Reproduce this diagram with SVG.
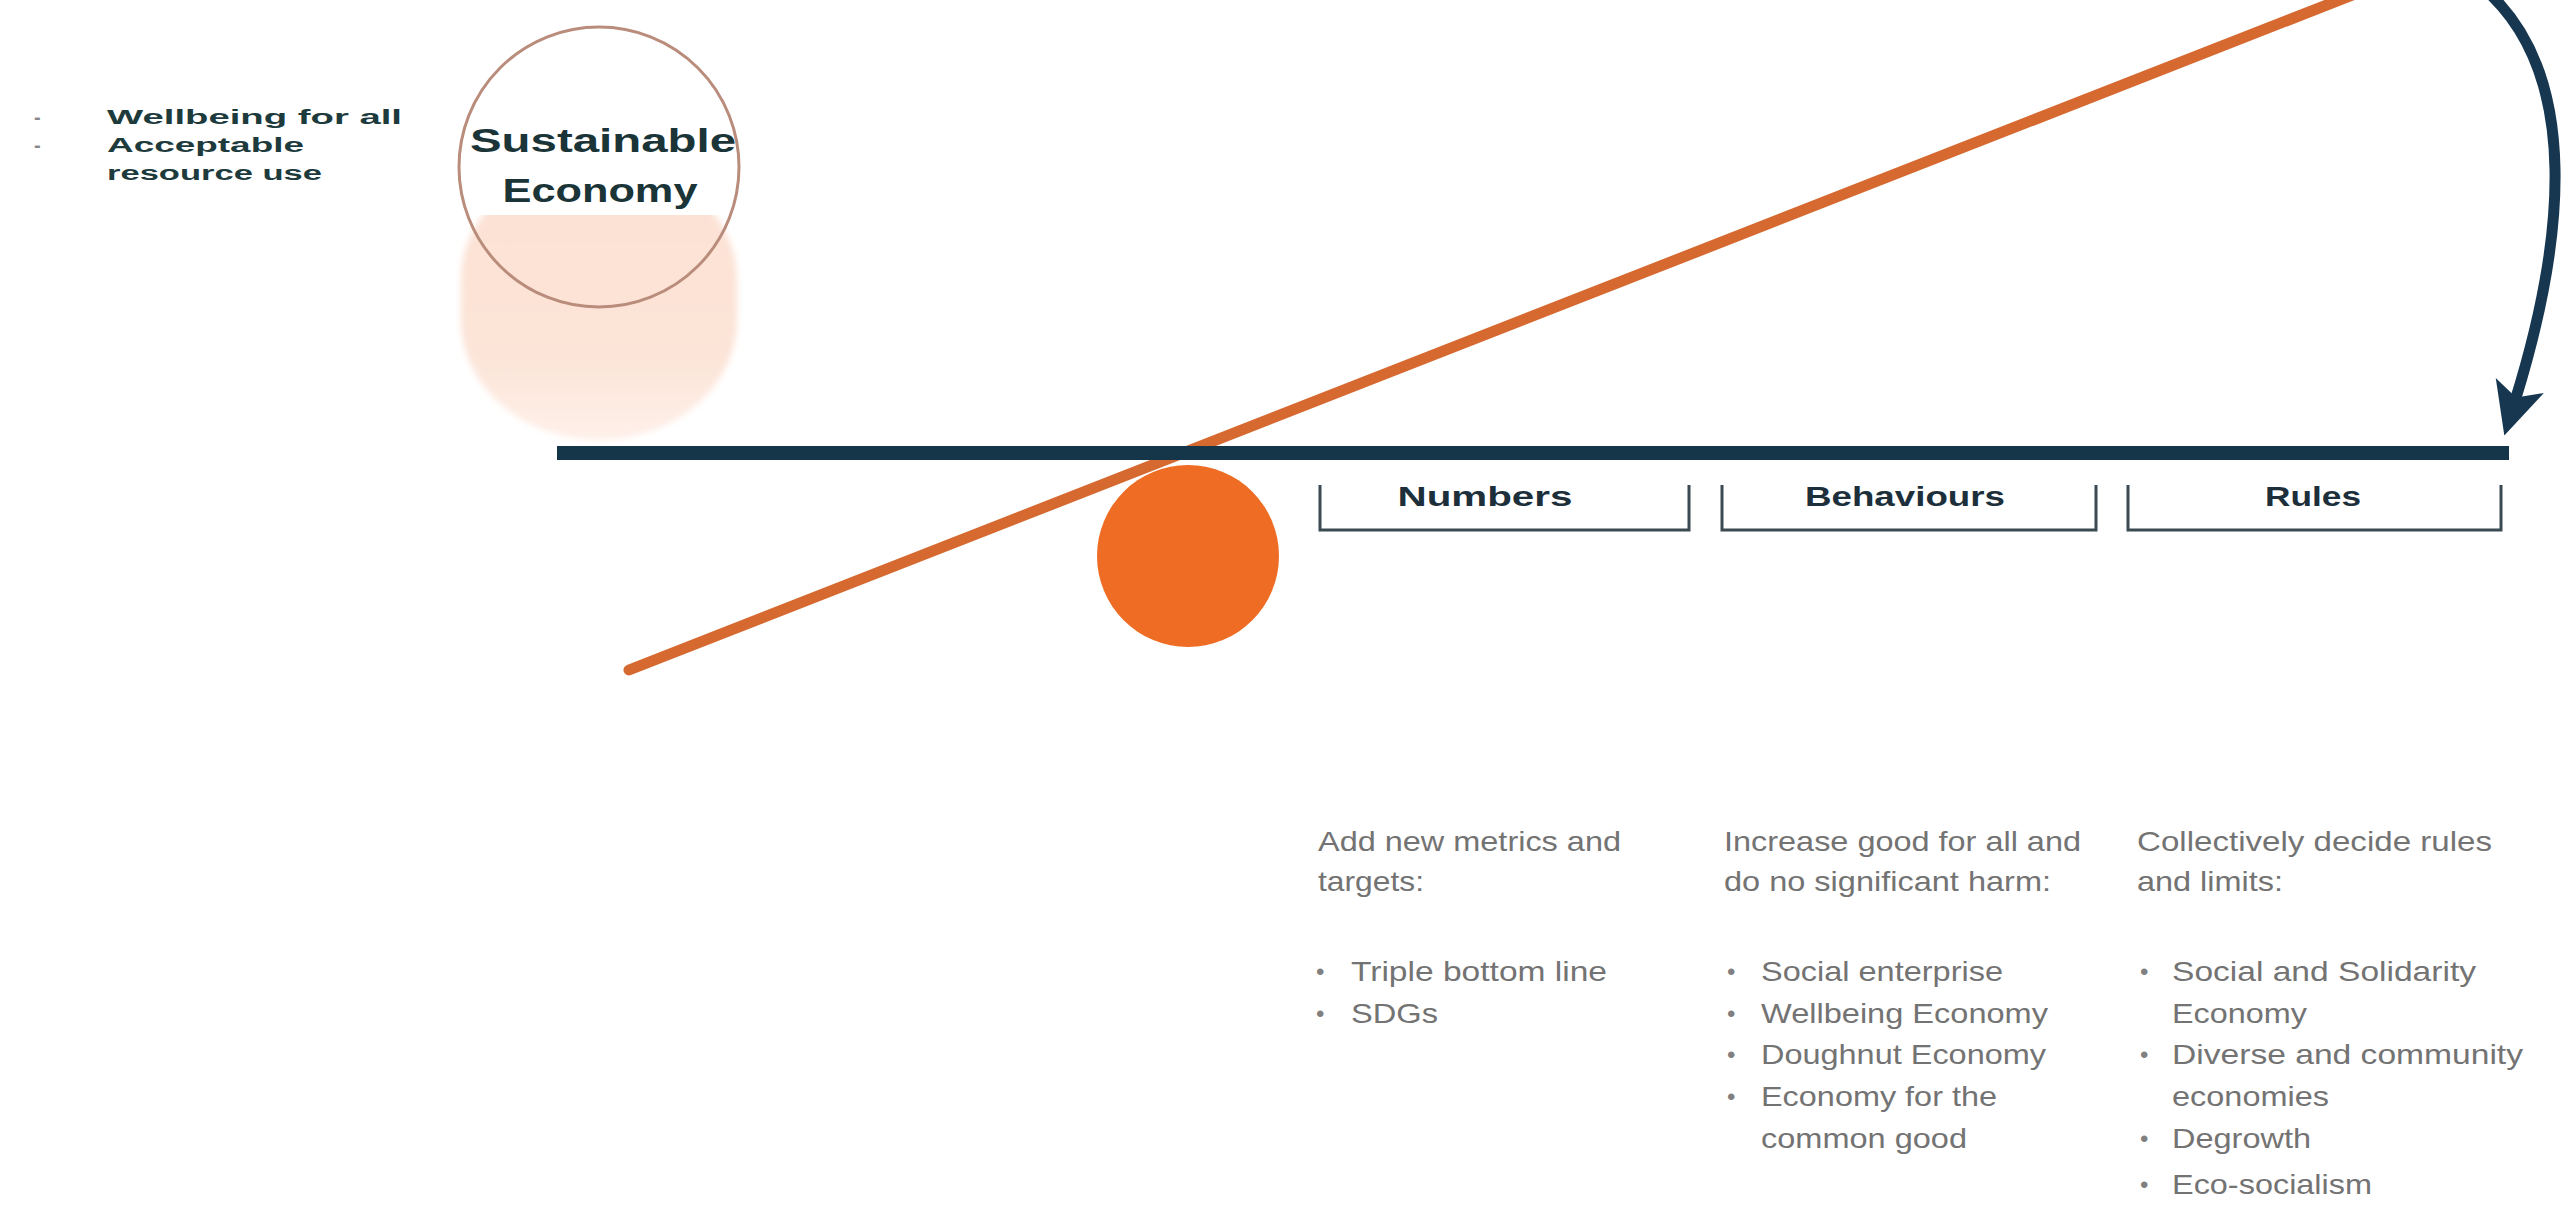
<svg xmlns="http://www.w3.org/2000/svg" width="2574" height="1222" viewBox="0 0 2574 1222">
<defs>
<style>
.t{font-family:"Liberation Sans",Arial,sans-serif}
.b{font-weight:700}
.goal{font-size:20px;fill:#1d3a3c}
.title{font-size:34px;fill:#1a3438}
.lab{font-size:28px;fill:#1c2f3a}
.body{font-size:28px;fill:#737373}
.dot{font-size:24px;fill:#808080}
.brk{fill:none;stroke:#3b4a52;stroke-width:3}
</style>
<linearGradient id="peach" x1="0" y1="0" x2="0" y2="1">
<stop offset="0" stop-color="#fce1d3"/>
<stop offset="0.7" stop-color="#fce4d8"/>
<stop offset="1" stop-color="#fef0e9"/>
</linearGradient>
<filter id="soft" x="-10%" y="-10%" width="120%" height="120%"><feGaussianBlur stdDeviation="3"/></filter>
<marker id="ah" viewBox="0 0 60 60" markerWidth="54" markerHeight="54" refX="18" refY="30" orient="auto" markerUnits="userSpaceOnUse">
<path d="M0,2 L58,30 L0,58 L14,30 Z" fill="#173750"/>
</marker>
</defs>
<rect width="2574" height="1222" fill="#ffffff"/>

<g id="goals">
<text class="t b" x="34" y="124" font-size="20" fill="#888">-</text>
<text class="t b" x="34" y="152" font-size="20" fill="#888">-</text>
<text class="t b goal" x="107" y="124" textLength="295" lengthAdjust="spacingAndGlyphs">Wellbeing for all</text>
<text class="t b goal" x="107" y="152" textLength="197" lengthAdjust="spacingAndGlyphs">Acceptable</text>
<text class="t b goal" x="107" y="180" textLength="215" lengthAdjust="spacingAndGlyphs">resource use</text>
</g>

<g id="sustainable-economy">
<rect x="461" y="160" width="276" height="280" rx="138" ry="120" fill="url(#peach)" filter="url(#soft)"/>
<rect x="450" y="15" width="300" height="200" fill="#ffffff"/>
<circle cx="599" cy="167" r="140" fill="none" stroke="#b98c7c" stroke-width="3"/>
<text class="t b title" x="603" y="152" text-anchor="middle" textLength="266" lengthAdjust="spacingAndGlyphs">Sustainable</text>
<text class="t b title" x="600" y="202" text-anchor="middle" textLength="195" lengthAdjust="spacingAndGlyphs">Economy</text>
</g>

<g id="fulcrum">
<circle cx="1188" cy="556" r="91" fill="#ee6c24"/>
</g>

<g id="lever">
<line x1="629" y1="670" x2="2360" y2="-8" stroke="#d6692f" stroke-width="11" stroke-linecap="round"/>
</g>

<g id="beam">
<rect x="557" y="446" width="1952" height="14" fill="#153548"/>
</g>

<g id="numbers">
<path class="brk" d="M1320,485 V530 H1689 V485"/>
<text class="t b lab" x="1485" y="506" text-anchor="middle" textLength="175" lengthAdjust="spacingAndGlyphs">Numbers</text>
</g>
<g id="behaviours">
<path class="brk" d="M1722,485 V530 H2096 V485"/>
<text class="t b lab" x="1905" y="506" text-anchor="middle" textLength="200" lengthAdjust="spacingAndGlyphs">Behaviours</text>
</g>
<g id="rules">
<path class="brk" d="M2128,485 V530 H2501 V485"/>
<text class="t b lab" x="2313" y="506" text-anchor="middle" textLength="96" lengthAdjust="spacingAndGlyphs">Rules</text>
</g>

<g id="numbers-text">
<text class="t body" x="1318" y="851" textLength="303" lengthAdjust="spacingAndGlyphs">Add new metrics and</text>
<text class="t body" x="1318" y="891" textLength="106" lengthAdjust="spacingAndGlyphs">targets:</text>
<text class="t dot" x="1316" y="980">•</text>
<text class="t body" x="1351" y="981" textLength="256" lengthAdjust="spacingAndGlyphs">Triple bottom line</text>
<text class="t dot" x="1316" y="1022">•</text>
<text class="t body" x="1351" y="1023" textLength="87" lengthAdjust="spacingAndGlyphs">SDGs</text>
</g>

<g id="behaviours-text">
<text class="t body" x="1724" y="851" textLength="357" lengthAdjust="spacingAndGlyphs">Increase good for all and</text>
<text class="t body" x="1724" y="891" textLength="327" lengthAdjust="spacingAndGlyphs">do no significant harm:</text>
<text class="t dot" x="1727" y="980">•</text>
<text class="t body" x="1761" y="981" textLength="242" lengthAdjust="spacingAndGlyphs">Social enterprise</text>
<text class="t dot" x="1727" y="1022">•</text>
<text class="t body" x="1761" y="1023" textLength="287" lengthAdjust="spacingAndGlyphs">Wellbeing Economy</text>
<text class="t dot" x="1727" y="1063">•</text>
<text class="t body" x="1761" y="1064" textLength="285" lengthAdjust="spacingAndGlyphs">Doughnut Economy</text>
<text class="t dot" x="1727" y="1105">•</text>
<text class="t body" x="1761" y="1106" textLength="236" lengthAdjust="spacingAndGlyphs">Economy for the</text>
<text class="t body" x="1761" y="1148" textLength="206" lengthAdjust="spacingAndGlyphs">common good</text>
</g>

<g id="rules-text">
<text class="t body" x="2137" y="851" textLength="355" lengthAdjust="spacingAndGlyphs">Collectively decide rules</text>
<text class="t body" x="2137" y="891" textLength="146" lengthAdjust="spacingAndGlyphs">and limits:</text>
<text class="t dot" x="2140" y="980">•</text>
<text class="t body" x="2172" y="981" textLength="304" lengthAdjust="spacingAndGlyphs">Social and Solidarity</text>
<text class="t body" x="2172" y="1023" textLength="135" lengthAdjust="spacingAndGlyphs">Economy</text>
<text class="t dot" x="2140" y="1063">•</text>
<text class="t body" x="2172" y="1064" textLength="351" lengthAdjust="spacingAndGlyphs">Diverse and community</text>
<text class="t body" x="2172" y="1106" textLength="157" lengthAdjust="spacingAndGlyphs">economies</text>
<text class="t dot" x="2140" y="1147">•</text>
<text class="t body" x="2172" y="1148" textLength="139" lengthAdjust="spacingAndGlyphs">Degrowth</text>
<text class="t dot" x="2140" y="1193">•</text>
<text class="t body" x="2172" y="1194" textLength="200" lengthAdjust="spacingAndGlyphs">Eco-socialism</text>
</g>

<g id="connectors">
<path d="M2490,-6 C2580,80 2565,240 2515,401" fill="none" stroke="#173750" stroke-width="11" marker-end="url(#ah)"/>
</g>
</svg>
